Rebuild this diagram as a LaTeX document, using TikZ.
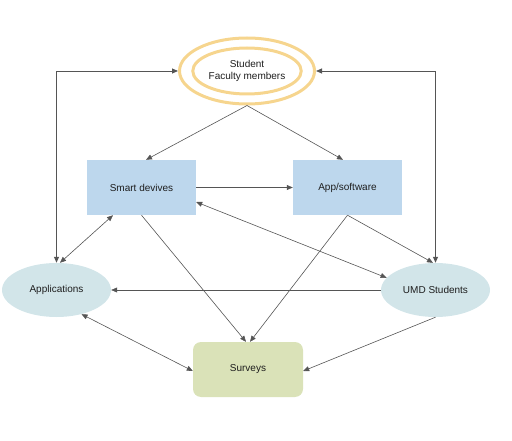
\documentclass[tikz,border=0pt]{standalone}
\usepackage{fontspec}
\setmainfont{Liberation Sans}
\usetikzlibrary{shapes.geometric,arrows.meta}
\definecolor{boxblue}{RGB}{189,215,237}
\definecolor{ellteal}{RGB}{210,229,233}
\definecolor{survgreen}{RGB}{218,226,184}
\definecolor{ringorange}{RGB}{246,213,142}
\definecolor{linegray}{RGB}{85,85,85}
\definecolor{txt}{RGB}{30,30,30}
\begin{document}
\begin{tikzpicture}[x=1pt,y=-1pt,
  every node/.style={font=\fontsize{10}{12}\selectfont, text=txt, align=center},
  bluebox/.style={rectangle, fill=boxblue, minimum width=109pt, minimum height=55pt, inner sep=0pt},
  tealell/.style={ellipse, fill=ellteal, minimum width=109pt, minimum height=54pt, inner sep=0pt},
  ring/.style={ellipse, draw=ringorange, line width=3pt, inner sep=0pt},
  conn/.style={draw=linegray, line width=0.6pt, -{Triangle[length=6pt,width=5pt]}},
  biconn/.style={draw=linegray, line width=0.6pt, {Triangle[length=6pt,width=5pt]}-{Triangle[length=6pt,width=5pt]}},
  thickbi/.style={biconn, line width=0.9pt}
]
\useasboundingbox (0,0) rectangle (512,441);
\node[ring, minimum width=135pt, minimum height=66pt] (top) at (247,71) {};
\node[ring, minimum width=108pt, minimum height=46pt] (topin) at (247,71) {Student\\Faculty members};
\node[bluebox] (sd) at (141.5,187.5) {Smart devives};
\node[bluebox] (sw) at (347.5,187.5) {App/software};
\node[tealell] (appl) at (56.5,290) {Applications};
\node[tealell] (umd) at (435.5,290) {UMD Students};
\node[rectangle, rounded corners=8pt, fill=survgreen, minimum width=110pt, minimum height=55pt, inner sep=0pt] (sv) at (248,369.5) {Surveys};
% connectors
\draw[thickbi] (appl.north) |- (top.west);
\draw[thickbi] (umd.north) |- (top.east);
\draw[conn] (top.south) -- ([xshift=4.5pt]sd.north);
\draw[conn] (top.south) -- ([xshift=-4.5pt]sw.north);
\draw[conn] (sd.east) -- (sw.west);
\draw[biconn] ([xshift=3.5pt]appl.north) -- ([xshift=-28.5pt]sd.south);
\draw[biconn] ([yshift=-14.5pt]sd.east) -- (umd.166);
\draw[conn] (sd.south) -- ([xshift=-2pt]sv.north);
\draw[conn] (sw.south) -- ([xshift=2pt]sv.north);
\draw[conn] (sw.south) -- ([xshift=-2.5pt]umd.north);
\draw[conn] (umd.west) -- (appl.east);
\draw[biconn] (appl.-44) -- ([yshift=-1.5pt]sv.west);
\draw[conn] (umd.south) -- ([yshift=-1.5pt]sv.east);
\end{tikzpicture}
\end{document}
